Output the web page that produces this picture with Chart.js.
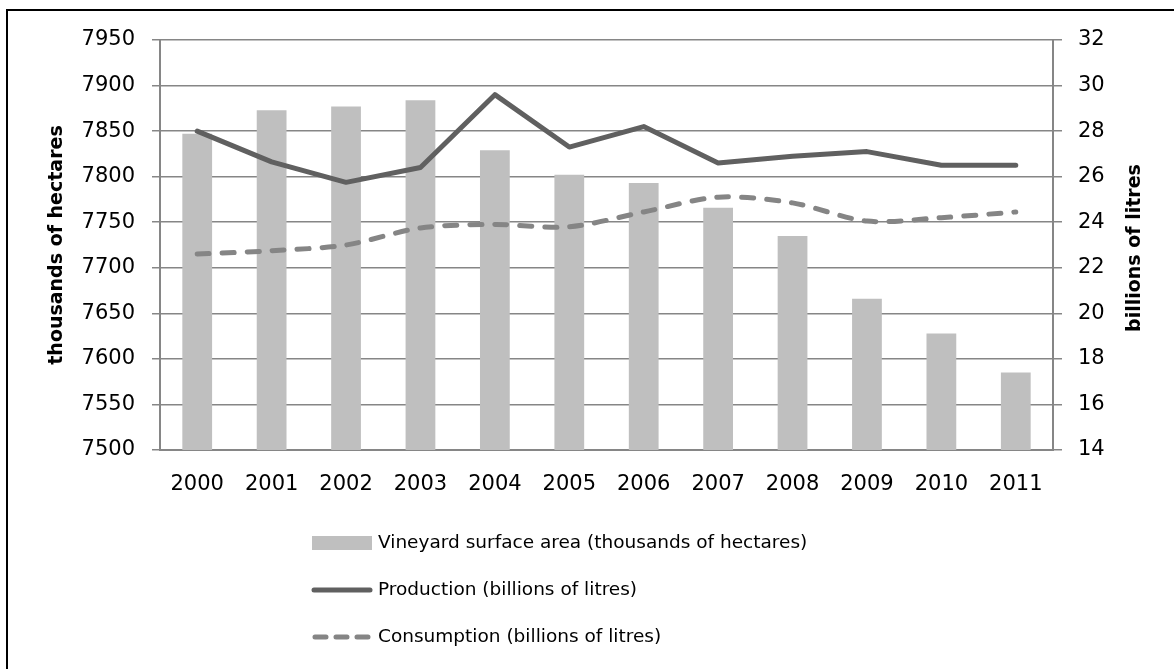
<!DOCTYPE html>
<html lang="en">
<head>
  <meta charset="UTF-8" />
  <title>Vineyard surface area, production and consumption</title>
  <script src="https://cdn.jsdelivr.net/npm/chart.js"></script>
  <style>
    html, body { margin: 0; padding: 0; background: #fff; }
  </style>
</head>
<body>
<canvas id="grafik" width="1174" height="669"></canvas>
<script>
  // Veriler
  const years = ['2000', '2001', '2002', '2003', '2004', '2005', '2006', '2007', '2008', '2009', '2010', '2011'];
  const surfaceArea = [7847, 7873, 7877, 7884, 7829, 7802, 7793, 7766, 7735, 7666, 7628, 7585];
  const production = [28.0, 26.65, 25.75, 26.4, 29.6, 27.3, 28.2, 26.6, 26.9, 27.1, 26.5, 26.5];
  const consumption = [22.6, 22.75, 23.0, 23.75, 23.9, 23.8, 24.45, 25.1, 24.85, 24.05, 24.2, 24.45];
  const leftTicks = [7500, 7550, 7600, 7650, 7700, 7750, 7800, 7850, 7900, 7950];
  const rightTicks = [14, 16, 18, 20, 22, 24, 26, 28, 30, 32];

  const labelSurface = 'Vineyard surface area (thousands of hectares)';
  const labelProduction = 'Production (billions of litres)';
  const labelConsumption = 'Consumption (billions of litres)';

  const FONT = '"DejaVu Sans", sans-serif';
  const GRID = '#868686';
  const BAR = '#bfbfbf';
  const PROD = '#606060';
  const CONS = '#858585';

  // Çerçeve, eksen başlıkları ve lejant
  const decor = {
    id: 'decor',
    beforeDraw(chart) {
      const c = chart.ctx;
      c.save();
      c.fillStyle = '#fff';
      c.fillRect(0, 0, chart.width, chart.height);
      c.restore();
    },
    afterDraw(chart) {
      const c = chart.ctx;
      const area = chart.chartArea;
      const midY = (area.top + area.bottom) / 2;
      c.save();

      // dış çerçeve
      c.strokeStyle = '#000';
      c.lineWidth = 2;
      c.beginPath();
      c.moveTo(7, chart.height + 2);
      c.lineTo(7, 10);
      c.lineTo(chart.width + 2, 10);
      c.stroke();

      // eksen başlıkları
      c.fillStyle = '#000';
      c.font = 'bold 19px ' + FONT;
      c.textAlign = 'center';
      c.textBaseline = 'middle';
      c.save();
      c.translate(57, midY);
      c.rotate(-Math.PI / 2);
      c.fillText('thousands of hectares', 0, 0);
      c.restore();
      c.save();
      c.translate(1135, midY + 3);
      c.rotate(-Math.PI / 2);
      c.fillText('billions of litres', 0, 0);
      c.restore();

      // lejant
      const x0 = 312, x1 = 372, tx = 378;
      const rows = [543, 590, 637];
      c.font = '18.5px ' + FONT;
      c.textAlign = 'left';
      c.fillStyle = BAR;
      c.fillRect(x0, rows[0] - 7, x1 - x0, 14);

      c.lineCap = 'round';
      c.strokeStyle = PROD;
      c.lineWidth = 5;
      c.beginPath();
      c.moveTo(x0 + 2, rows[1]);
      c.lineTo(x1 - 2, rows[1]);
      c.stroke();

      c.strokeStyle = CONS;
      c.setLineDash([11, 10]);
      c.beginPath();
      c.moveTo(x0 + 3, rows[2]);
      c.lineTo(x1 - 2, rows[2]);
      c.stroke();
      c.setLineDash([]);

      c.fillStyle = '#000';
      c.fillText(labelSurface, tx, rows[0]);
      c.fillText(labelProduction, tx, rows[1]);
      c.fillText(labelConsumption, tx, rows[2]);
      c.restore();
    }
  };

  const tickFont = { family: FONT, size: 21 };
  const plain = v => String(v);

  const ctx = document.getElementById('grafik').getContext('2d');
  const myChart = new Chart(ctx, {
    type: 'bar',
    data: {
      labels: years,
      datasets: [
        {
          type: 'line',
          label: labelProduction,
          data: production,
          yAxisID: 'y1',
          borderColor: PROD,
          borderWidth: 5,
          pointRadius: 0,
          tension: 0,
          borderCapStyle: 'round',
          borderJoinStyle: 'round',
          order: 1
        },
        {
          type: 'line',
          label: labelConsumption,
          data: consumption,
          yAxisID: 'y1',
          borderColor: CONS,
          borderWidth: 5,
          borderDash: [12, 13],
          borderCapStyle: 'round',
          pointRadius: 0,
          tension: 0.3,
          order: 2
        },
        {
          label: labelSurface,
          data: surfaceArea,
          yAxisID: 'y',
          backgroundColor: BAR,
          categoryPercentage: 1,
          barPercentage: 0.4,
          order: 3
        }
      ]
    },
    options: {
      responsive: false,
      animation: false,
      layout: { padding: { top: 40, left: 0, right: 0, bottom: 0 } },
      plugins: {
        legend: { display: false },
        tooltip: { enabled: false }
      },
      scales: {
        x: {
          grid: { display: false, drawTicks: false },
          border: { display: true, color: GRID, width: 2 },
          ticks: { color: '#000', font: tickFont, padding: 22, maxRotation: 0 },
          afterFit(s) { s.height = 219; }
        },
        y: {
          position: 'left',
          min: 7500,
          max: 7950,
          afterBuildTicks(s) { s.ticks = leftTicks.map(v => ({ value: v })); },
          grid: { color: GRID, lineWidth: 1.5, tickLength: 8 },
          border: { color: GRID, width: 2 },
          ticks: { color: '#000', font: tickFont, padding: 17, callback: plain },
          afterFit(s) { s.width = 160; }
        },
        y1: {
          position: 'right',
          min: 14,
          max: 32,
          afterBuildTicks(s) { s.ticks = rightTicks.map(v => ({ value: v })); },
          grid: { drawOnChartArea: false, color: GRID, lineWidth: 1.5, tickLength: 9 },
          border: { color: GRID, width: 2 },
          ticks: { color: '#000', font: tickFont, padding: 16, callback: plain },
          afterFit(s) { s.width = 121; }
        }
      }
    },
    plugins: [decor]
  });
</script>
</body>
</html>
